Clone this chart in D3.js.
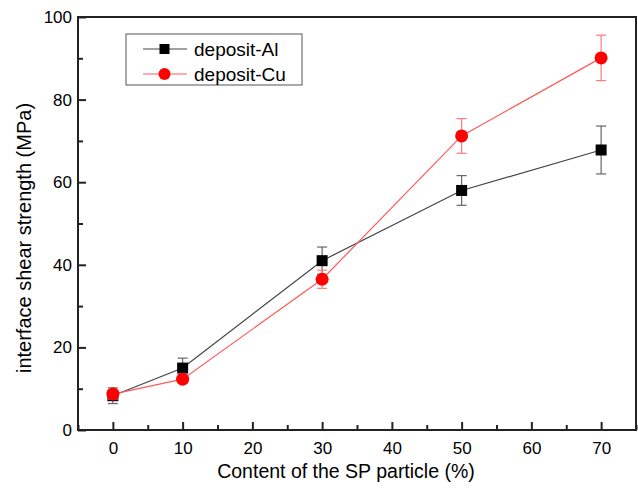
<html>
<head>
<script src="https://d3js.org/d3.v7.min.js"></script>
<style>
  body { margin: 0; background: #fff; }
  text { font-family: "Liberation Sans", Arial, sans-serif; fill: #000; }
</style>
</head>
<body>
<svg id="chart" width="638" height="488"></svg>
<script>
var contents = [0, 10, 30, 50, 70];
var alValues = [8.3, 15.0, 41.0, 58.0, 67.8];
var alErrors = [1.9, 2.4, 3.3, 3.6, 5.8];
var cuValues = [8.7, 12.3, 36.5, 71.2, 90.1];
var cuErrors = [1.2, 1.0, 2.2, 4.2, 5.5];
var xTicks = [0, 10, 20, 30, 40, 50, 60, 70];
var yTicks = [0, 20, 40, 60, 80, 100];

var svg = d3.select('#chart');
var plotL = 78, plotR = 636, plotT = 17, plotB = 430;

var x = d3.scaleLinear().domain([-5, 75]).range([plotL, plotR]);
var y = d3.scaleLinear().domain([0, 100]).range([plotB, plotT]);

// minor ticks (inward)
var xMinor = d3.range(-5, 76, 5).filter(function(v){ return v % 10 !== 0; });
var yMinor = d3.range(10, 100, 20);

function styleAxis(g) {
  g.select('.domain').remove();
  g.selectAll('line').attr('stroke', '#222').attr('stroke-width', 2);
  g.selectAll('text').style('font-size', '17px').style('font-family', 'Liberation Sans, Arial, sans-serif').attr('fill', '#000');
}

svg.append('g').attr('transform', 'translate(0,' + plotB + ')')
  .call(d3.axisBottom(x).tickValues(xTicks).tickSizeInner(-8).tickSizeOuter(0).tickPadding(12))
  .call(styleAxis);
svg.append('g').attr('transform', 'translate(0,' + plotB + ')')
  .call(d3.axisBottom(x).tickValues(xMinor).tickSizeInner(-5).tickSizeOuter(0).tickFormat(''))
  .call(styleAxis);

svg.append('g').attr('transform', 'translate(' + plotL + ',0)')
  .call(d3.axisLeft(y).tickValues(yTicks).tickSizeInner(-8).tickSizeOuter(0).tickPadding(6))
  .call(styleAxis);
svg.append('g').attr('transform', 'translate(' + plotL + ',0)')
  .call(d3.axisLeft(y).tickValues(yMinor).tickSizeInner(-5).tickSizeOuter(0).tickFormat(''))
  .call(styleAxis);

// frame
svg.append('rect')
  .attr('x', plotL).attr('y', plotT)
  .attr('width', plotR - plotL).attr('height', plotB - plotT)
  .attr('fill', 'none').attr('stroke', '#222').attr('stroke-width', 2);

// axis titles
svg.append('text')
  .attr('x', 346).attr('y', 478)
  .attr('text-anchor', 'middle')
  .style('font-size', '19.5px')
  .text('Content of the SP particle (%)');
svg.append('text')
  .attr('transform', 'translate(31,238) rotate(-90)')
  .attr('text-anchor', 'middle')
  .style('font-size', '20px')
  .text('interface shear strength (MPa)');

function drawSeries(values, errors, lineColor, errColor, marker, fill) {
  var pts = contents.map(function(c, i){ return {x: c, y: values[i], e: errors[i]}; });
  var line = d3.line().x(function(d){ return x(d.x); }).y(function(d){ return y(d.y); });
  svg.append('path').datum(pts)
    .attr('d', line).attr('fill', 'none')
    .attr('stroke', lineColor).attr('stroke-width', 1.2);
  var eb = svg.append('g').attr('stroke', errColor).attr('stroke-width', 1.2);
  pts.forEach(function(d){
    eb.append('line').attr('x1', x(d.x)).attr('x2', x(d.x))
      .attr('y1', y(d.y - d.e)).attr('y2', y(d.y + d.e));
    [d.y - d.e, d.y + d.e].forEach(function(v){
      eb.append('line').attr('x1', x(d.x) - 5).attr('x2', x(d.x) + 5)
        .attr('y1', y(v)).attr('y2', y(v));
    });
  });
  if (marker === 'square') {
    svg.append('g').selectAll('rect').data(pts).enter().append('rect')
      .attr('x', function(d){ return x(d.x) - 5.5; })
      .attr('y', function(d){ return y(d.y) - 5.5; })
      .attr('width', 11).attr('height', 11).attr('fill', fill);
  } else {
    svg.append('g').selectAll('circle').data(pts).enter().append('circle')
      .attr('cx', function(d){ return x(d.x); })
      .attr('cy', function(d){ return y(d.y); })
      .attr('r', 6.5).attr('fill', fill);
  }
}

drawSeries(alValues, alErrors, '#444', '#666', 'square', '#000');
drawSeries(cuValues, cuErrors, '#ff5a5a', '#ff7a7a', 'circle', '#ff0000');

// legend
var lg = svg.append('g');
lg.append('rect').attr('x', 126).attr('y', 34).attr('width', 176).attr('height', 51)
  .attr('fill', '#fff').attr('stroke', '#555').attr('stroke-width', 1);
var legendItems = [
  {name: 'deposit-Al', color: '#444', fill: '#000', marker: 'square', yy: 49},
  {name: 'deposit-Cu', color: '#ff5a5a', fill: '#ff0000', marker: 'circle', yy: 74}
];
legendItems.forEach(function(it){
  lg.append('line').attr('x1', 143).attr('x2', 187).attr('y1', it.yy).attr('y2', it.yy)
    .attr('stroke', it.color).attr('stroke-width', 1.2);
  if (it.marker === 'square') {
    lg.append('rect').attr('x', 159.5).attr('y', it.yy - 5).attr('width', 10).attr('height', 10).attr('fill', it.fill);
  } else {
    lg.append('circle').attr('cx', 164.5).attr('cy', it.yy).attr('r', 6).attr('fill', it.fill);
  }
  lg.append('text').attr('x', 194).attr('y', it.yy + 7)
    .style('font-size', '19px').text(it.name);
});
</script>
</body>
</html>
